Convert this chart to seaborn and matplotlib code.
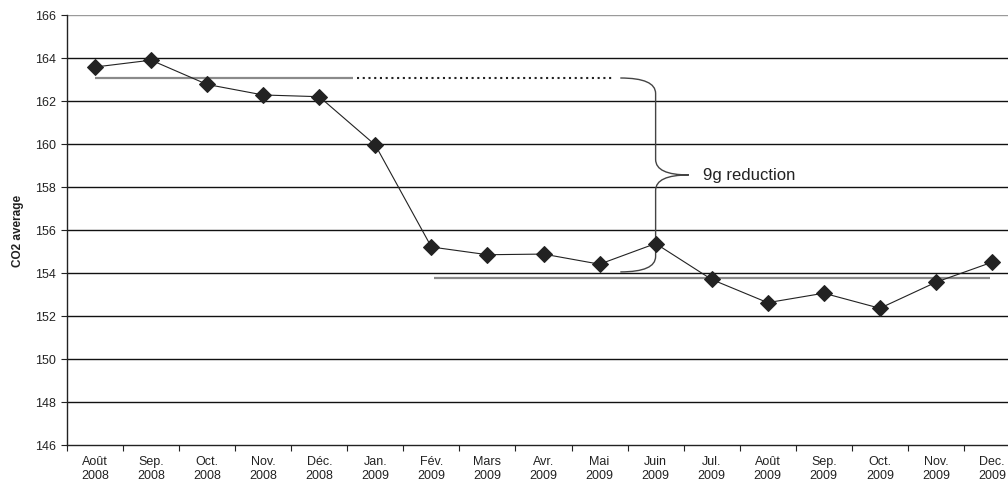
import numpy as np
import pandas as pd
import matplotlib
matplotlib.use("Agg")
import matplotlib.pyplot as plt
from matplotlib.path import Path
from matplotlib.patches import PathPatch
import seaborn as sns

# Monthly CO2 average, Aug 2008 - Dec 2009
months = ["Août\n2008", "Sep.\n2008", "Oct.\n2008", "Nov.\n2008", "Déc.\n2008",
          "Jan.\n2009", "Fév.\n2009", "Mars\n2009", "Avr.\n2009", "Mai\n2009",
          "Juin\n2009", "Jul.\n2009", "Août\n2009", "Sep.\n2009", "Oct.\n2009",
          "Nov.\n2009", "Dec.\n2009"]
co2_avg = [163.58, 163.90, 162.77, 162.28, 162.20, 159.95, 155.21, 154.85,
           154.88, 154.41, 155.37, 153.70, 152.62, 153.06, 152.36, 153.57, 154.50]

# average levels before and after the change
before_level = 163.07
after_level = 153.77
y_ticks = list(range(146, 167, 2))

sns.set_style("white")
plt.rcParams["font.family"] = ["Liberation Sans", "DejaVu Sans"]

df = pd.DataFrame({"month": months, "co2": co2_avg})
df["pos"] = np.arange(len(df))

fig = plt.figure(figsize=(10.08, 4.85), dpi=100)
ax = fig.add_axes([67 / 1008, 39 / 485, (1020 - 67) / 1008, 430 / 485])

# horizontal grid
for v in y_ticks[1:-1]:
    ax.axhline(v, color="#111111", lw=1.0, zorder=0)
ax.axhline(y_ticks[-1], color="#9a9a9a", lw=1.0, zorder=0)

# level before: solid part then dotted continuation
ax.plot([0, 4.6], [before_level, before_level], color="#8a8a8a", lw=1.6,
        solid_capstyle="butt", zorder=1)
ax.plot([4.67, 9.24], [before_level, before_level], color="#222222", lw=1.5,
        linestyle=(0, (1, 1.75)), dash_capstyle="butt", zorder=1)
# level after
ax.plot([6.05, 15.97], [after_level, after_level], color="#8a8a8a", lw=1.6,
        solid_capstyle="butt", zorder=1)

sns.lineplot(data=df, x="pos", y="co2", ax=ax, color="#222222", lw=0.8,
             marker="D", markersize=8.5, markeredgecolor="#222222",
             markerfacecolor="#222222", zorder=3)

# curly brace spanning the two levels
x0, xm, xt = 9.37, 10.0, 10.59
top, bot = before_level, after_level + 0.28
mid = (top + bot) / 2
r = 0.72
verts = [(x0, top), (xm, top), (xm, top - r),
         (xm, mid + r),
         (xm, mid), (xt, mid),
         (xm, mid), (xm, mid - r),
         (xm, bot + r),
         (xm, bot), (x0, bot)]
codes = [Path.MOVETO, Path.CURVE3, Path.CURVE3,
         Path.LINETO,
         Path.CURVE3, Path.CURVE3,
         Path.CURVE3, Path.CURVE3,
         Path.LINETO,
         Path.CURVE3, Path.CURVE3]
ax.add_patch(PathPatch(Path(verts, codes), fill=False, edgecolor="#444444",
                       lw=1.0, zorder=2))
reduction = round(before_level - after_level)
ax.text(10.85, mid, f"{reduction}g reduction", fontsize=12, color="#222222",
        va="center", ha="left")

ax.set_xlim(-0.5, len(months) - 0.5)
ax.set_ylim(y_ticks[0], y_ticks[-1])
ax.set_yticks(y_ticks)
ax.set_yticklabels([str(v) for v in y_ticks])
ax.set_xticks(df["pos"])
ax.set_xticklabels(months)
ax.set_xticks(np.arange(-0.5, len(months)), minor=True)
ax.tick_params(axis="x", which="major", length=0, pad=7, labelsize=9,
               labelcolor="#222222")
ax.tick_params(axis="x", which="minor", length=4, width=0.8, color="#222222",
               direction="out", bottom=True)
ax.tick_params(axis="y", length=4, width=0.8, color="#222222", direction="out",
               left=True, pad=4, labelsize=9, labelcolor="#222222")
ax.set_xlabel("")
ax.set_ylabel("CO2 average", fontsize=8.5, fontweight="bold", color="#222222",
              labelpad=8)

for side in ["top", "right"]:
    ax.spines[side].set_visible(False)
for side in ["left", "bottom"]:
    ax.spines[side].set_color("#222222")
    ax.spines[side].set_linewidth(1.0)

fig.savefig("out.png", dpi=100)
